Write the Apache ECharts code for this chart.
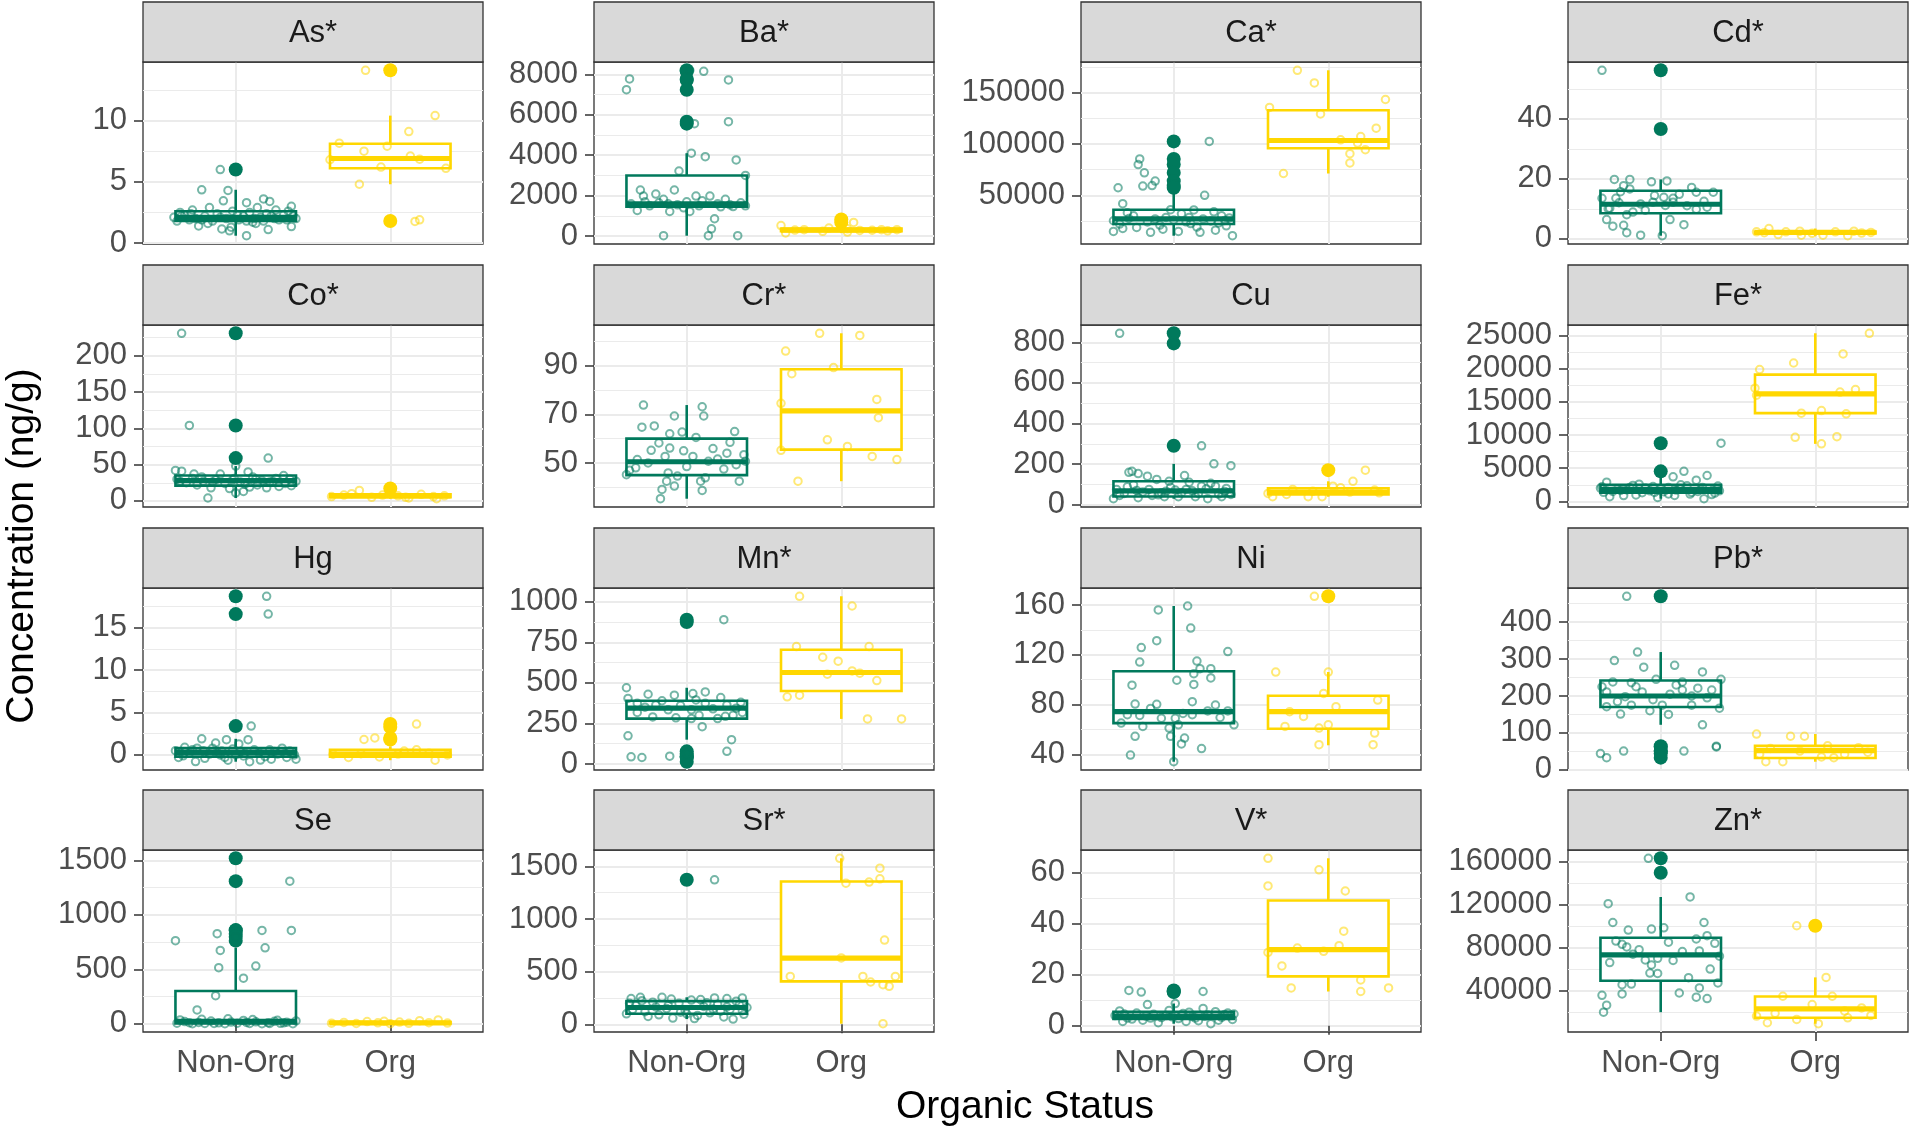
<!DOCTYPE html>
<html>
<head>
<meta charset="utf-8">
<title>Concentration by organic status</title>
<script src="https://cdn.jsdelivr.net/npm/echarts@6.0.0/dist/echarts.min.js"></script>
<style>
html, body { margin: 0; padding: 0; background: #fff; }
#chart { width: 1911px; height: 1130px; }
</style>
</head>
<body>
<div id="chart"></div>
<script>
// groups on the x axis and panel titles
var groups = ['Non-Org', 'Org'];
var elements = ['As*', 'Ba*', 'Ca*', 'Cd*', 'Co*', 'Cr*', 'Cu', 'Fe*', 'Hg', 'Mn*', 'Ni', 'Pb*', 'Se', 'Sr*', 'V*', 'Zn*'];

// for every element:
// xxBox   = [Non-Org, Org] as [lower whisker, Q1, median, Q3, upper whisker]
// xxOut   = [Non-Org outliers, Org outliers]
// xxNon / xxOrg = jittered samples as [x offset, value]
// xxTicks = y axis breaks
var asBox = [[0.6, 1.8, 2.1, 2.6, 4.35], [4.8, 6.1, 6.9, 8.1, 10.4]];
var asOut = [[6.0], [14.1, 1.8]];
var asNon = [[-0.10,6.0],[-0.22,4.35],[-0.05,4.3],[-0.08,3.45],[0.07,3.3],[0.18,3.6],[0.22,3.4],[0.36,3.0],[-0.17,2.9],[0.14,2.9],[-0.28,2.7],[-0.36,2.5],[-0.40,2.1],[-0.24,1.4],[-0.09,1.15],[-0.04,1.0],[0.21,1.1],[0.36,1.35],[0.07,0.6],[0.37,2.2],[0.18,1.8],[-0.33,2.3],[-0.30,1.9],[-0.26,2.0],[-0.20,2.2],[-0.15,1.8],[-0.12,2.4],[-0.06,2.0],[-0.02,2.6],[0.02,1.9],[0.05,2.2],[0.09,2.5],[0.11,1.7],[0.16,2.1],[0.20,2.4],[0.25,2.0],[0.28,1.9],[0.31,2.3],[0.34,2.6],[-0.38,1.8],[0.39,2.0],[-0.18,1.6],[0.13,1.6],[-0.03,1.3],[0.26,2.7],[-0.35,2.2],[-0.22,1.9],[-0.10,2.1],[0.01,2.3],[0.12,2.0],[0.23,2.2],[0.33,1.9],[-0.29,2.4],[0.07,1.8]];
var asOrg = [[-0.16,14.1],[0.29,10.4],[0.12,9.1],[-0.33,8.15],[-0.17,7.5],[-0.02,7.9],[0.13,7.1],[0.19,6.85],[-0.39,6.8],[-0.06,6.2],[0.36,6.1],[-0.20,4.8],[0.16,1.77],[0.19,1.9]];
var asTicks = [0, 5, 10];

var baBox = [[20, 1450, 1600, 3000, 4100], [150, 250, 300, 380, 520]];
var baOut = [[8200, 8150, 7770, 7720, 7240, 5660, 5560], [820, 680]];
var baNon = [[0.02,8200],[0.11,8150],[-0.37,7770],[0.27,7720],[-0.39,7240],[0.27,5660],[0.05,5560],[0.03,4100],[0.12,3930],[0.32,3770],[-0.05,3220],[0.38,3000],[-0.30,2280],[-0.08,2280],[-0.20,2080],[-0.28,1980],[-0.15,1820],[0.06,1980],[0.15,1980],[0.25,1820],[-0.32,1270],[-0.11,1220],[0.02,1220],[0.30,1460],[0.18,860],[0.16,360],[-0.15,20],[0.14,20],[0.33,20],[-0.36,1600],[-0.24,1500],[-0.18,1650],[-0.06,1550],[0.00,1700],[0.08,1500],[0.20,1600],[0.28,1550],[0.35,1650],[-0.02,1400],[0.22,1450],[-0.27,1700],[0.38,1500],[0.10,1750],[-0.12,1600]];
var baOrg = [[-0.39,520],[-0.36,160],[-0.24,320],[-0.12,240],[0.04,360],[0.12,280],[0.20,290],[0.26,320],[0.36,320],[0.04,200],[-0.08,400],[0.00,820],[0.08,680],[-0.30,300],[0.30,260]];
var baTicks = [0, 2000, 4000, 6000, 8000];

var caBox = [[10600, 22000, 27000, 36000, 55000], [71300, 96000, 103500, 133000, 172000]];
var caOut = [[102600, 85500, 80000, 72000, 63900, 59000, 57400], []];
var caNon = [[0.23,102600],[-0.22,85500],[-0.23,80000],[-0.19,72000],[-0.12,63900],[-0.20,59000],[-0.14,59500],[-0.36,57400],[0.20,50000],[-0.33,41900],[0.13,35800],[0.26,33900],[0.31,30000],[-0.39,14800],[-0.33,17700],[-0.24,18700],[-0.15,13900],[0.03,14800],[0.17,13900],[0.38,10600],[0.34,20300],[-0.39,25200],[-0.29,27400],[-0.05,28400],[0.08,24200],[-0.35,22000],[-0.26,30000],[-0.17,24000],[-0.09,21000],[0.00,26000],[0.05,32000],[0.11,22500],[0.19,27000],[0.24,25000],[0.29,23000],[0.36,28000],[-0.02,36000],[-0.30,33000],[0.15,19000],[-0.07,17000],[0.27,16000],[-0.12,27000],[0.10,28500],[0.33,25500]];
var caOrg = [[-0.20,172000],[-0.09,159700],[-0.05,129400],[-0.38,135800],[0.37,143500],[0.31,115500],[0.21,107400],[0.19,101000],[0.24,94500],[0.14,90600],[0.14,81600],[-0.29,71300],[0.08,104200]];
var caTicks = [50000, 100000, 150000];

var cdBox = [[1.0, 8.5, 11.5, 16.0, 19.8], [1.0, 1.8, 2.1, 2.4, 3.4]];
var cdOut = [[56.2, 36.6], []];
var cdNon = [[-0.38,56.2],[0.00,36.6],[-0.30,19.8],[-0.20,19.8],[-0.06,19.0],[0.04,19.3],[-0.24,17.7],[-0.20,16.6],[0.20,17.1],[0.23,15.5],[0.34,15.5],[-0.26,15.7],[-0.29,13.5],[-0.04,14.4],[0.02,13.8],[0.08,13.5],[-0.38,13.5],[-0.33,10.2],[-0.34,10.0],[-0.18,8.9],[-0.22,8.0],[0.23,9.8],[-0.35,6.4],[0.06,6.4],[-0.31,4.2],[-0.24,4.5],[0.15,4.7],[-0.22,2.0],[-0.13,1.2],[0.01,1.0],[0.03,11.1],[-0.05,12.2],[0.08,12.2],[0.17,11.0],[-0.13,11.6],[0.28,12.5],[-0.10,9.5],[0.12,14.8],[0.30,10.5],[-0.27,12.0]];
var cdOrg = [[-0.30,3.4],[-0.24,1.4],[-0.38,2.3],[-0.10,2.5],[-0.09,1.2],[0.05,1.2],[0.13,2.3],[0.21,1.0],[0.25,2.5],[0.36,2.1],[-0.02,1.8],[-0.19,2.3],[0.30,1.9],[-0.33,2.0]];
var cdTicks = [0, 20, 40];

var coBox = [[4, 21, 28, 35, 48], [3, 5, 7, 9, 14.5]];
var coOut = [[231, 104, 59], [17]];
var coNon = [[-0.35,231],[-0.30,104],[0.21,59],[-0.39,42],[-0.35,41],[-0.18,4],[-0.21,27],[-0.27,37],[-0.10,37],[-0.16,18],[-0.04,17],[0.00,11],[0.05,13],[0.08,40],[0.20,18],[0.22,26],[0.31,35],[0.32,24],[0.36,21],[0.00,48],[-0.38,30],[-0.32,25],[-0.25,22],[-0.13,29],[-0.07,24],[-0.01,31],[0.03,26],[0.11,33],[0.14,22],[0.17,28],[0.26,31],[0.28,20],[0.39,27],[-0.22,33],[0.09,19],[-0.36,27],[-0.28,31],[-0.15,26],[-0.02,29],[0.13,30],[0.24,27],[0.35,30],[0.06,23]];
var coOrg = [[-0.38,6],[-0.30,8],[-0.20,14.5],[-0.12,5],[0.00,17],[0.05,7],[0.12,4],[0.20,9],[0.28,6],[0.35,7],[-0.25,10],[0.10,5],[0.30,3],[-0.05,8]];
var coTicks = [0, 50, 100, 150, 200];

var crBox = [[35.3, 45, 50.5, 60, 73.8], [42.5, 55.5, 71.4, 88.5, 103.3]];
var crOut = [[], []];
var crNon = [[-0.28,73.8],[0.10,73.1],[0.11,69.3],[-0.08,69.3],[-0.29,64.7],[-0.21,65.2],[-0.11,62.0],[-0.03,62.7],[0.31,62.9],[-0.18,58.2],[-0.23,55.2],[-0.11,56.1],[0.17,55.9],[0.26,54.0],[0.37,53.4],[-0.14,52.7],[0.04,52.7],[0.20,51.6],[-0.33,48.0],[-0.39,45.2],[-0.12,45.9],[-0.06,44.6],[-0.13,42.5],[0.09,42.5],[0.12,43.9],[-0.16,39.1],[0.10,38.7],[-0.08,40.5],[-0.17,35.3],[0.34,42.5],[0.38,50.7],[0.32,49.3],[-0.32,51.4],[0.14,50.7],[-0.37,47.0],[0.24,47.5],[0.00,48.5],[-0.25,50.0],[0.28,58.5],[-0.02,55.0],[0.06,60.5]];
var crOrg = [[-0.14,103.3],[0.12,102.4],[-0.36,96.0],[-0.32,86.7],[-0.05,89.2],[0.23,76.1],[-0.39,74.5],[0.24,68.6],[-0.09,59.5],[0.04,56.8],[-0.39,55.2],[0.20,52.7],[0.36,51.4],[-0.28,42.5]];
var crTicks = [50, 70, 90];

var cuBox = [[29, 40, 68, 115, 201], [39, 50, 62, 81, 115]];
var cuOut = [[845, 795, 290], [170]];
var cuNon = [[-0.35,845],[0.00,795],[0.18,290],[0.26,201],[0.37,192],[0.07,143],[-0.29,159],[-0.27,164],[-0.23,153],[-0.17,140],[-0.11,124],[-0.03,115],[-0.39,29],[-0.23,34],[-0.06,39],[0.03,39],[0.14,39],[0.22,29],[0.31,39],[0.37,50],[0.18,91],[0.27,91],[-0.37,75],[-0.16,75],[0.08,75],[-0.32,55],[-0.20,62],[-0.10,48],[-0.02,85],[0.05,58],[0.12,68],[0.24,105],[0.33,65],[-0.26,98],[0.34,80],[-0.14,45],[0.10,110],[0.29,52],[-0.05,66],[-0.35,45],[-0.24,70],[-0.08,58],[0.01,72],[0.16,55],[0.21,78],[0.36,60],[-0.30,88]];
var cuOrg = [[0.24,170],[0.16,115],[-0.39,55],[-0.36,39],[-0.27,50],[-0.13,39],[-0.04,39],[0.03,91],[0.08,83],[-0.23,75],[0.33,58],[-0.10,66],[0.14,62],[0.30,72]];
var cuTicks = [0, 200, 400, 600, 800];

var feBox = [[400, 1300, 1800, 2500, 3900], [8670, 13300, 16200, 19100, 25340]];
var feOut = [[8770, 4530], []];
var feNon = [[0.39,8770],[0.15,4530],[0.30,3900],[0.08,3700],[0.23,3200],[-0.35,2900],[-0.18,2400],[-0.05,2240],[0.05,2100],[0.17,2340],[0.27,2100],[0.34,1750],[-0.37,1360],[-0.24,880],[-0.16,975],[0.05,1120],[0.20,1360],[0.33,1020],[-0.07,1600],[-0.28,1850],[-0.39,2000],[-0.31,1500],[-0.12,1300],[0.00,1900],[0.10,1700],[0.13,2500],[-0.20,2100],[0.24,1500],[0.37,2300],[-0.02,600],[0.28,400],[-0.33,700],[0.09,900],[-0.10,2000],[0.19,1100],[-0.26,1650],[0.35,1250],[-0.14,2600],[0.02,1450],[-0.38,2200],[-0.22,1750],[-0.04,1350],[0.12,1950],[0.26,1800],[0.38,1600]];
var feOrg = [[0.35,25340],[0.18,22220],[-0.14,20860],[-0.36,19880],[-0.39,17060],[-0.38,16000],[0.16,16470],[0.26,16860],[-0.09,13300],[0.04,13690],[0.20,13200],[-0.13,9650],[0.14,9750],[0.04,8670]];
var feTicks = [0, 5000, 10000, 15000, 20000, 25000];

var hgBox = [[-0.8, -0.2, 0.3, 0.8, 1.9], [-0.62, -0.2, 0.1, 0.6, 1.0]];
var hgOut = [[18.7, 16.6, 3.4], [3.64, 3.3, 2.0, 1.82]];
var hgNon = [[0.20,18.7],[0.21,16.6],[0.10,3.4],[-0.22,1.9],[0.08,1.8],[-0.06,1.8],[-0.13,1.4],[0.02,1.3],[-0.33,0.9],[-0.25,0.8],[-0.37,-0.3],[-0.26,-0.78],[-0.05,-0.62],[0.09,-0.8],[0.23,-0.5],[0.33,-0.3],[-0.39,0.5],[-0.17,0.1],[-0.09,0.46],[0.15,0.27],[0.27,0.1],[0.35,0.46],[0.05,-0.12],[-0.30,0.2],[-0.20,-0.4],[-0.02,0.7],[0.12,0.6],[0.19,-0.2],[0.30,0.8],[0.38,0.0],[-0.34,-0.1],[-0.12,0.3],[0.00,0.0],[0.25,0.4],[-0.28,0.6],[0.16,-0.6],[-0.07,-0.3],[0.06,0.2],[0.39,-0.5],[-0.15,0.8],[-0.36,0.3],[-0.21,0.5],[0.03,0.4],[0.22,0.6],[0.32,0.2],[-0.10,0.0]];
var hgOrg = [[0.17,3.64],[0.00,3.3],[-0.17,1.82],[-0.10,2.0],[-0.37,0.08],[-0.27,-0.3],[-0.07,-0.23],[0.05,0.1],[0.25,0.2],[0.29,-0.62],[0.37,0.0],[0.09,0.46],[-0.19,0.15],[0.17,0.6]];
var hgTicks = [0, 5, 10, 15];

var mnBox = [[150, 280, 345, 390, 470], [278, 450, 564, 704, 1034]];
var mnOut = [[890, 875, 78, 64, 48, 44, 40, 14], []];
var mnNon = [[0.24,890],[0.00,875],[-0.39,470],[-0.38,404],[-0.25,430],[-0.08,424],[0.04,434],[0.12,444],[-0.32,374],[-0.20,364],[-0.12,334],[0.03,334],[0.12,374],[0.26,364],[0.32,344],[0.36,318],[-0.32,318],[0.03,280],[0.10,230],[0.20,280],[0.25,294],[-0.38,174],[0.29,150],[0.26,78],[-0.36,44],[-0.29,40],[-0.11,48],[0.00,14],[0.00,64],[-0.27,350],[-0.16,390],[-0.04,360],[0.08,300],[0.17,340],[0.35,380],[-0.22,290],[0.06,395],[-0.07,285],[0.22,410],[0.30,300]];
var mnOrg = [[-0.27,1034],[0.07,974],[-0.29,724],[0.18,724],[-0.12,658],[-0.02,634],[0.07,574],[0.23,514],[-0.35,414],[-0.27,424],[0.17,278],[0.39,278],[-0.09,554],[0.12,560]];
var mnTicks = [0, 250, 500, 750, 1000];

var niBox = [[34.2, 65.2, 74.4, 106.8, 159.2], [47.4, 60.7, 74.4, 87.2, 106.2]];
var niOut = [[], [167]];
var niNon = [[0.09,159.2],[-0.10,156],[0.11,141.5],[-0.11,131.4],[-0.21,125.8],[0.35,122.6],[-0.22,114.2],[0.15,115],[0.17,108.9],[0.24,108.9],[0.13,104.9],[0.24,101.5],[0.02,99.6],[0.13,96.2],[-0.27,95.6],[-0.25,80.5],[-0.11,80.3],[0.12,82.4],[0.27,79.7],[-0.22,71.3],[-0.08,69.1],[0.01,69],[0.12,72],[0.22,75],[0.30,69.7],[-0.34,65.2],[0.39,63.8],[-0.20,62.5],[-0.03,61.2],[0.03,63.8],[-0.02,54.6],[0.07,53.2],[-0.25,54.6],[0.05,48.5],[0.18,44.8],[-0.28,39.5],[0.00,34.2],[-0.30,72],[0.35,75],[-0.15,77],[0.06,73]];
var niOrg = [[-0.09,167],[-0.34,106.2],[0.00,106.2],[-0.03,89],[-0.25,74.4],[-0.16,70.5],[0.05,78.4],[0.32,83.7],[-0.28,62.5],[-0.06,61.2],[0.00,63.8],[0.30,57.2],[-0.06,47.9],[0.29,47.9]];
var niTicks = [40, 80, 120, 160];

var pbBox = [[122, 170, 200, 242, 319], [22, 32, 52, 65, 97]];
var pbOut = [[470, 64, 62, 51, 51, 44, 33], []];
var pbNon = [[-0.22,470],[-0.15,319],[-0.30,296],[-0.11,278],[0.09,283],[-0.31,238],[-0.19,236],[-0.03,245],[0.14,238],[0.27,265],[0.39,245],[-0.35,211],[-0.23,198],[-0.12,211],[0.14,216],[0.24,221],[0.33,216],[-0.35,171],[-0.19,175],[0.01,175],[0.20,175],[0.38,167],[-0.26,151],[0.27,122],[-0.39,44],[-0.35,33],[-0.24,51],[0.15,51],[0.36,64],[0.36,62],[-0.05,190],[0.06,205],[-0.28,185],[0.30,195],[0.10,230],[-0.16,225],[0.20,200],[-0.07,160],[0.05,150],[-0.38,225]];
var pbOrg = [[-0.38,97],[-0.16,91],[-0.07,91],[-0.32,22],[-0.21,22],[-0.36,42],[0.04,35],[0.12,33],[0.19,42],[-0.10,51],[-0.29,58],[0.28,60],[0.34,48],[0.08,65]];
var pbTicks = [0, 100, 200, 300, 400];

var seBox = [[0, 2, 22, 300, 697], [0, 3, 8, 15, 35]];
var seOut = [[1520, 1310, 860, 857, 827, 800, 763], []];
var seNon = [[0.00,1520],[0.35,1310],[-0.39,763],[-0.12,827],[0.17,857],[0.36,857],[0.00,800],[-0.10,673],[0.19,697],[-0.11,515],[0.13,530],[0.05,418],[-0.13,258],[-0.25,127],[-0.38,5],[-0.33,20],[-0.28,0],[-0.24,12],[-0.20,3],[-0.16,25],[-0.11,8],[-0.07,0],[-0.03,15],[0.01,5],[0.05,30],[0.09,2],[0.13,18],[0.17,0],[0.21,10],[0.25,22],[0.29,4],[0.33,14],[0.37,0],[0.39,26],[-0.36,35],[-0.22,40],[-0.05,45],[0.11,38],[0.27,32],[-0.30,10],[0.07,12],[0.22,3],[-0.14,2],[0.31,8]];
var seOrg = [[-0.38,5],[-0.30,12],[-0.22,2],[-0.15,20],[-0.08,8],[0.00,0],[0.06,15],[0.12,4],[0.19,28],[0.25,10],[0.31,35],[0.37,6],[-0.04,22]];
var seTicks = [0, 500, 1000, 1500];

var srBox = [[50, 100, 160, 220, 257], [6, 408, 628, 1356, 1576]];
var srOut = [[1372], []];
var srNon = [[0.18,1372],[-0.30,257],[-0.16,257],[0.18,251],[-0.36,245],[0.26,245],[0.36,251],[-0.39,100],[-0.33,180],[-0.27,120],[-0.22,210],[-0.18,90],[-0.13,150],[-0.09,60],[-0.05,200],[-0.01,130],[0.03,230],[0.07,85],[0.11,170],[0.15,110],[0.20,190],[0.24,70],[0.28,140],[0.32,220],[0.37,95],[0.39,160],[-0.35,140],[-0.25,75],[-0.10,240],[0.05,55],[0.13,205],[0.22,125],[0.30,50],[-0.20,165],[0.00,100],[0.34,185],[-0.04,115],[0.17,145],[-0.29,225],[0.09,235],[-0.37,200],[-0.12,180],[0.26,165],[0.36,130]];
var srOrg = [[-0.01,1576],[0.25,1482],[0.25,1381],[0.18,1350],[0.03,1340],[0.28,800],[-0.33,455],[0.14,455],[0.35,455],[0.19,402],[0.27,377],[0.31,361],[0.27,6],[0.00,630]];
var srTicks = [0, 500, 1000, 1500];

var vBox = [[0.8, 2.7, 3.8, 5.5, 8.7], [13.4, 19.3, 29.8, 49.0, 65.5]];
var vOut = [[13.8, 13.4, 13.2], []];
var vNon = [[-0.29,13.8],[-0.21,13.2],[0.19,13.4],[-0.17,8.3],[0.01,8.7],[0.19,6.8],[0.27,5.5],[-0.33,1.7],[0.08,1.7],[-0.38,4.0],[-0.30,3.0],[-0.24,5.0],[-0.20,2.2],[-0.13,4.5],[-0.08,3.2],[-0.03,6.0],[0.03,2.8],[0.06,4.8],[0.12,3.6],[0.16,2.0],[0.22,4.2],[0.31,3.3],[0.35,5.0],[0.38,2.5],[-0.35,5.8],[-0.27,2.6],[-0.10,1.2],[0.10,5.3],[0.24,0.8],[0.33,4.4],[-0.05,4.0],[0.14,3.0],[-0.18,3.8],[0.29,2.2],[-0.01,3.5],[0.39,4.6],[-0.32,4.6],[-0.15,3.0],[0.05,4.1],[0.20,3.7],[0.36,3.9]];
var vOrg = [[-0.39,65.5],[-0.06,61],[-0.39,54.7],[0.11,52.7],[0.10,37],[0.07,31.3],[-0.20,30.4],[-0.03,29.1],[-0.39,28.7],[-0.30,23.4],[-0.24,14.8],[0.21,17.9],[0.21,13.4],[0.39,14.8]];
var vTicks = [0, 20, 40, 60];

var znBox = [[20000, 49200, 73200, 89100, 126900], [9300, 14800, 23000, 34500, 52300]];
var znOut = [[162800, 149300], [100200]];
var znNon = [[-0.08,162800],[0.00,149300],[-0.34,120700],[0.19,126900],[-0.31,103200],[0.28,103200],[-0.21,96200],[-0.06,97100],[0.02,98300],[0.30,91000],[0.23,87900],[-0.29,86000],[-0.25,83000],[-0.22,80500],[0.35,83900],[-0.18,73800],[-0.10,68500],[-0.02,70000],[0.08,68000],[0.14,76200],[0.25,76800],[-0.06,63900],[-0.07,56300],[-0.02,56000],[-0.19,46100],[-0.25,45500],[0.25,42500],[0.37,47100],[-0.38,35700],[-0.25,36900],[0.12,37800],[0.23,33900],[0.30,32600],[-0.35,26500],[-0.37,20000],[0.32,60000],[-0.33,66000],[0.05,85000],[0.38,72000],[-0.14,78000],[0.18,52000]];
var znOrg = [[-0.12,100200],[0.07,52300],[-0.21,34800],[0.11,34800],[-0.02,27100],[-0.38,16400],[-0.31,10200],[-0.12,13300],[0.02,9300],[0.21,14800],[0.19,21000],[0.30,24000],[-0.26,19000],[0.36,17000]];
var znTicks = [40000, 80000, 120000, 160000];

var panels = [
    [asBox, asOut, asNon, asOrg, asTicks], [baBox, baOut, baNon, baOrg, baTicks],
    [caBox, caOut, caNon, caOrg, caTicks], [cdBox, cdOut, cdNon, cdOrg, cdTicks],
    [coBox, coOut, coNon, coOrg, coTicks], [crBox, crOut, crNon, crOrg, crTicks],
    [cuBox, cuOut, cuNon, cuOrg, cuTicks], [feBox, feOut, feNon, feOrg, feTicks],
    [hgBox, hgOut, hgNon, hgOrg, hgTicks], [mnBox, mnOut, mnNon, mnOrg, mnTicks],
    [niBox, niOut, niNon, niOrg, niTicks], [pbBox, pbOut, pbNon, pbOrg, pbTicks],
    [seBox, seOut, seNon, seOrg, seTicks], [srBox, srOut, srNon, srOrg, srTicks],
    [vBox, vOut, vNon, vOrg, vTicks], [znBox, znOut, znNon, znOrg, znTicks]
];

// look
var GREEN = '#00795C';
var YELLOW = '#FFD700';
var FONT = '"Liberation Sans", Arial, Helvetica, sans-serif';
var colLeft = [143, 594, 1081, 1568];
var rowTop = [2, 265, 528, 790];
var panelW = 340, stripH = 60, plotH = 182;
var boxWidth = 0.78;

function fade(hex, a) {
    var n = parseInt(hex.slice(1), 16);
    return 'rgba(' + (n >> 16) + ',' + ((n >> 8) & 255) + ',' + (n & 255) + ',' + a + ')';
}

// minor breaks halfway between major ones, like ggplot does
function minorBreaks(b, lo, hi) {
    var step = b[1] - b[0], out = [];
    for (var v = b[0] - step * 1.5; v <= hi; v += step) {
        if (v >= lo) out.push(v);
    }
    return out;
}

function renderBox(params, api) {
    var x = api.value(0);
    var lw = api.coord([x, api.value(1)]);
    var q1 = api.coord([x, api.value(2)]);
    var md = api.coord([x, api.value(3)]);
    var q3 = api.coord([x, api.value(4)]);
    var hw = api.coord([x, api.value(5)]);
    var half = api.size([boxWidth, 0])[0] / 2;
    var color = api.visual('color');
    return {
        type: 'group',
        children: [
            {type: 'line', shape: {x1: lw[0], y1: lw[1], x2: q1[0], y2: q1[1]}, style: {stroke: color, lineWidth: 2.6}},
            {type: 'line', shape: {x1: q3[0], y1: q3[1], x2: hw[0], y2: hw[1]}, style: {stroke: color, lineWidth: 2.6}},
            {type: 'rect', shape: {x: q1[0] - half, y: q3[1], width: half * 2, height: Math.max(q1[1] - q3[1], 1)},
                style: {fill: '#fff', stroke: color, lineWidth: 2.6}},
            {type: 'line', shape: {x1: md[0] - half, y1: md[1], x2: md[0] + half, y2: md[1]}, style: {stroke: color, lineWidth: 5.2}}
        ]
    };
}

var grids = [], xAxes = [], yAxes = [], series = [], graphics = [];

panels.forEach(function (p, i) {
    var col = i % 4, row = Math.floor(i / 4);
    var left = colLeft[col], top = rowTop[row] + stripH;
    var box = p[0], out = p[1], non = p[2], org = p[3], ticks = p[4];
    var vals = box[0].concat(box[1], out[0], out[1],
        non.map(function (d) { return d[1]; }), org.map(function (d) { return d[1]; }));
    var lo = Math.min.apply(null, vals), hi = Math.max.apply(null, vals);
    var pad = (hi - lo) * 0.05;
    var yMin = lo - pad, yMax = hi + pad;
    var bottomRow = row === 3;

    grids.push({left: left, top: top, width: panelW, height: plotH, show: true,
        backgroundColor: '#fff', borderColor: '#333333', borderWidth: 1.3});

    xAxes.push({
        type: 'value', gridIndex: i, min: 0.4, max: 2.6,
        axisLine: {show: false},
        axisTick: {show: bottomRow, length: 9, lineStyle: {color: '#333333', width: 1.5}, customValues: [1, 2]},
        axisLabel: {show: bottomRow, customValues: [1, 2], color: '#4D4D4D', fontSize: 31, fontFamily: FONT, margin: 16,
            formatter: function (v) { return groups[Math.round(v) - 1] || ''; }},
        splitLine: {show: true, lineStyle: {color: '#EBEBEB', width: 2}}
    });

    yAxes.push({
        type: 'value', gridIndex: i, min: yMin, max: yMax,
        axisLine: {show: false},
        axisTick: {length: 9, lineStyle: {color: '#333333', width: 1.5}, customValues: ticks},
        axisLabel: {customValues: ticks, color: '#4D4D4D', fontSize: 31, fontFamily: FONT, margin: 16,
            formatter: function (v) { return String(v); }},
        splitLine: {show: true, lineStyle: {color: '#EBEBEB', width: 2}}
    });
    yAxes.push({
        type: 'value', gridIndex: i, min: yMin, max: yMax, position: 'right',
        axisLine: {show: false},
        axisTick: {show: false, customValues: minorBreaks(ticks, yMin, yMax)},
        axisLabel: {show: false},
        splitLine: {show: true, lineStyle: {color: '#EBEBEB', width: 1}}
    });

    var yi = i * 2;
    series.push({
        type: 'custom', xAxisIndex: i, yAxisIndex: yi, renderItem: renderBox, z: 2,
        encode: {x: 0, y: [1, 2, 3, 4, 5]},
        data: [
            {value: [1].concat(box[0]), itemStyle: {color: GREEN}},
            {value: [2].concat(box[1]), itemStyle: {color: YELLOW}}
        ]
    });
    series.push({
        type: 'scatter', xAxisIndex: i, yAxisIndex: yi, symbolSize: 14, z: 3,
        itemStyle: {color: GREEN, opacity: 1},
        data: out[0].map(function (v) { return [1, v]; })
    });
    series.push({
        type: 'scatter', xAxisIndex: i, yAxisIndex: yi, symbolSize: 14, z: 3,
        itemStyle: {color: YELLOW, opacity: 1},
        data: out[1].map(function (v) { return [2, v]; })
    });
    series.push({
        type: 'scatter', xAxisIndex: i, yAxisIndex: yi, symbolSize: 7.5, z: 4,
        itemStyle: {color: 'rgba(0,0,0,0)', borderColor: fade(GREEN, 0.68), borderWidth: 2},
        data: non.map(function (d) { return [1 + d[0], d[1]]; })
    });
    series.push({
        type: 'scatter', xAxisIndex: i, yAxisIndex: yi, symbolSize: 7.5, z: 4,
        itemStyle: {color: 'rgba(0,0,0,0)', borderColor: fade(YELLOW, 0.68), borderWidth: 2},
        data: org.map(function (d) { return [2 + d[0], d[1]]; })
    });

    // facet strip
    graphics.push({
        type: 'rect', shape: {x: left, y: rowTop[row], width: panelW, height: stripH},
        style: {fill: '#D9D9D9', stroke: '#333333', lineWidth: 1.3}, z: 10
    });
    graphics.push({
        type: 'text', x: left + panelW / 2, y: rowTop[row] + stripH / 2 + 1, z: 11,
        style: {text: elements[i], fill: '#1A1A1A', font: '31px ' + FONT, textAlign: 'center', textVerticalAlign: 'middle'}
    });
});

graphics.push({
    type: 'text', x: 22, y: 546, rotation: Math.PI / 2, z: 11,
    style: {text: 'Concentration (ng/g)', fill: '#000', font: '39px ' + FONT, textAlign: 'center', textVerticalAlign: 'middle'}
});
graphics.push({
    type: 'text', x: 1025, y: 1107, z: 11,
    style: {text: 'Organic Status', fill: '#000', font: '39px ' + FONT, textAlign: 'center', textVerticalAlign: 'middle'}
});

var chart = echarts.init(document.getElementById('chart'));
chart.setOption({
    backgroundColor: '#fff',
    animation: false,
    grid: grids,
    xAxis: xAxes,
    yAxis: yAxes,
    series: series,
    graphic: {elements: graphics}
});
</script>
</body>
</html>
